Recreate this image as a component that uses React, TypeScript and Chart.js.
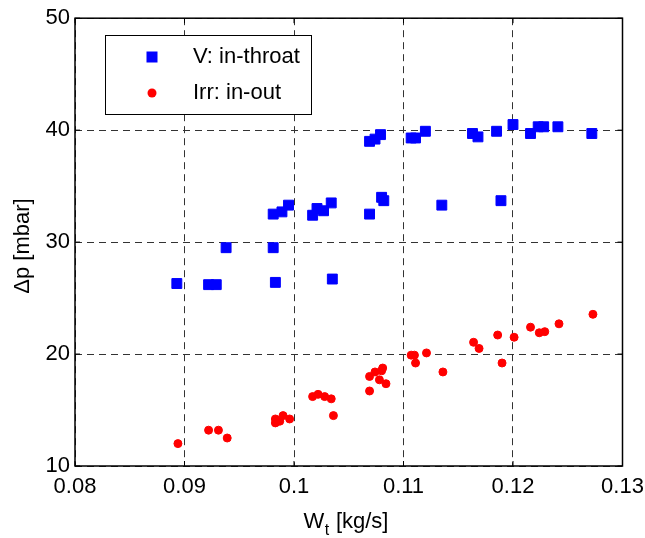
import React, { useEffect, useRef } from "react";
import { Chart, registerables } from "chart.js";

Chart.register(...registerables);

const xTickLabels = ["0.08", "0.09", "0.1", "0.11", "0.12", "0.13"];
const yTickLabels = ["10", "20", "30", "40", "50"];
const seriesNames = ["V: in-throat", "Irr: in-out"];
const xTitleMain = "W";
const xTitleSub = "t";
const xTitleRest = " [kg/s]";
const yTitle = "\u0394p [mbar]";

const vThroatX = [
  0.0893, 0.0922, 0.0929, 0.0938, 0.0981, 0.0983, 0.0981, 0.0989, 0.0995, 0.1017,
  0.1021, 0.1027, 0.1034, 0.1035, 0.1069, 0.1074, 0.1079, 0.1069, 0.108, 0.1082,
  0.1107, 0.1111, 0.112, 0.1135, 0.1163, 0.1168, 0.1185, 0.1189, 0.12, 0.1216,
  0.1223, 0.1228, 0.1241, 0.1272,
];
const vThroatY = [
  26.3, 26.2, 26.2, 29.5, 29.5, 26.4, 32.5, 32.7, 33.3, 32.4,
  33.0, 32.8, 33.5, 26.7, 39.0, 39.2, 39.6, 32.5, 34.0, 33.7,
  39.3, 39.3, 39.9, 33.3, 39.7, 39.4, 39.9, 33.7, 40.5, 39.7,
  40.3, 40.3, 40.3, 39.7,
];

const irrX = [
  0.0894, 0.0922, 0.0931, 0.0939, 0.0983, 0.0983, 0.0987, 0.099, 0.0996, 0.1017,
  0.1022, 0.1028, 0.1034, 0.1036, 0.1069, 0.1069, 0.1074, 0.1078, 0.108, 0.1081,
  0.1084, 0.1107, 0.111, 0.1111, 0.1121, 0.1136, 0.1164, 0.1169, 0.1186, 0.119,
  0.1201, 0.1216, 0.1224, 0.1229, 0.1242, 0.1273,
];
const irrY = [
  12.0, 13.2, 13.2, 12.5, 13.85, 14.2, 14.0, 14.5, 14.2, 16.2,
  16.4, 16.2, 16.0, 14.5, 16.7, 18.0, 18.4, 17.7, 18.5, 18.75,
  17.35, 19.9, 19.9, 19.2, 20.1, 18.4, 21.05, 20.5, 21.7, 19.2,
  21.5, 22.4, 21.9, 22.0, 22.7, 23.55,
];

const FONT = '"Liberation Sans", Arial, Helvetica, sans-serif';
const BLUE = "#0000ff";
const RED = "#ff0000";

const framePlugin = {
  id: "frame",
  afterDraw(chart: any) {
    const { ctx, chartArea, scales } = chart;
    const { left, right, top, bottom } = chartArea;
    ctx.save();
    ctx.strokeStyle = "#000";
    ctx.lineWidth = 1.5;
    ctx.setLineDash([]);
    ctx.strokeRect(left, top, right - left, bottom - top);
    // inward tick marks on all sides
    ctx.lineWidth = 1;
    const tl = 5;
    scales.x.ticks.forEach((t: any) => {
      const px = scales.x.getPixelForValue(t.value);
      ctx.beginPath();
      ctx.moveTo(px, bottom);
      ctx.lineTo(px, bottom - tl);
      ctx.moveTo(px, top);
      ctx.lineTo(px, top + tl);
      ctx.stroke();
    });
    scales.y.ticks.forEach((t: any) => {
      const py = scales.y.getPixelForValue(t.value);
      ctx.beginPath();
      ctx.moveTo(left, py);
      ctx.lineTo(left + tl, py);
      ctx.moveTo(right, py);
      ctx.lineTo(right - tl, py);
      ctx.stroke();
    });

    // axis titles
    ctx.fillStyle = "#000";
    ctx.textBaseline = "alphabetic";
    ctx.font = `22px ${FONT}`;
    const wMain = ctx.measureText(xTitleMain).width;
    const wRest = ctx.measureText(xTitleRest).width;
    ctx.font = `16px ${FONT}`;
    const wSub = ctx.measureText(xTitleSub).width;
    const total = wMain + wSub + wRest + 1;
    const cx = 346;
    const x0 = cx - total / 2;
    const base = 528;
    ctx.textAlign = "left";
    ctx.font = `22px ${FONT}`;
    ctx.fillText(xTitleMain, x0, base);
    ctx.font = `16px ${FONT}`;
    ctx.fillText(xTitleSub, x0 + wMain + 0.5, base + 7);
    ctx.font = `22px ${FONT}`;
    ctx.fillText(xTitleRest, x0 + wMain + wSub + 1, base);

    ctx.save();
    ctx.translate(29, 246);
    ctx.rotate(-Math.PI / 2);
    ctx.textAlign = "center";
    ctx.font = `22px ${FONT}`;
    ctx.fillText(yTitle, 0, 0);
    ctx.restore();

    // legend box
    const lx = 105.5, ly = 35.5, lw = 206, lh = 79;
    ctx.fillStyle = "#fff";
    ctx.fillRect(lx, ly, lw, lh);
    ctx.strokeStyle = "#000";
    ctx.lineWidth = 1;
    ctx.strokeRect(lx, ly, lw, lh);
    const rows = [57, 93];
    chart.data.datasets.forEach((ds: any, i: number) => {
      const my = rows[i];
      ctx.fillStyle = ds.backgroundColor;
      if (ds.pointStyle === "rect") {
        ctx.fillRect(152 - 5.5, my - 5.5, 11, 11);
      } else {
        ctx.beginPath();
        ctx.arc(152, my, 4.5, 0, Math.PI * 2);
        ctx.fill();
      }
      ctx.fillStyle = "#000";
      ctx.font = `22px ${FONT}`;
      ctx.textAlign = "left";
      ctx.textBaseline = "middle";
      ctx.fillText(ds.label, 193, my);
    });
    ctx.restore();
  },
};

export default function App() {
  const ref = useRef<HTMLCanvasElement>(null);
  useEffect(() => {
    document.body.style.margin = "0";
    const canvas = ref.current!;
    const chart = new Chart(canvas, {
      type: "scatter",
      data: {
        datasets: [
          {
            label: seriesNames[0],
            data: vThroatX.map((x, i) => ({ x, y: vThroatY[i] })),
            pointStyle: "rect",
            pointRadius: 7,
            pointHoverRadius: 7,
            backgroundColor: BLUE,
            borderColor: BLUE,
            borderWidth: 1,
          },
          {
            label: seriesNames[1],
            data: irrX.map((x, i) => ({ x, y: irrY[i] })),
            pointStyle: "circle",
            pointRadius: 4,
            pointHoverRadius: 4,
            backgroundColor: RED,
            borderColor: RED,
            borderWidth: 1,
          },
        ],
      },
      options: {
        responsive: false,
        animation: false,
        events: [],
        layout: { padding: { top: 17, right: 0, left: 0, bottom: 0 } },
        plugins: {
          legend: { display: false },
          tooltip: { enabled: false },
          title: { display: false },
        },
        scales: {
          x: {
            type: "linear",
            min: 0.08,
            max: 0.13,
            afterFit: (s: any) => {
              s.height = 72;
              s.paddingRight = 22.5;
              s.paddingLeft = 0;
            },
            afterBuildTicks: (s: any) => {
              s.ticks = xTickLabels.map((l) => ({ value: parseFloat(l) }));
            },
            ticks: {
              callback: (_v: any, i: number) => xTickLabels[i],
              font: { size: 22, family: FONT },
              color: "#000",
              padding: 8,
              maxRotation: 0,
              autoSkip: false,
            },
            grid: { color: "#333", lineWidth: 1, drawTicks: false },
            border: { display: false, dash: [7, 5] },
          },
          y: {
            type: "linear",
            min: 10,
            max: 50,
            afterFit: (s: any) => {
              s.width = 75;
            },
            afterBuildTicks: (s: any) => {
              s.ticks = yTickLabels.map((l) => ({ value: parseFloat(l) }));
            },
            ticks: {
              callback: (_v: any, i: number) => yTickLabels[i],
              font: { size: 22, family: FONT },
              color: "#000",
              padding: 5,
              autoSkip: false,
            },
            grid: { color: "#333", lineWidth: 1, drawTicks: false },
            border: { display: false, dash: [7, 5] },
          },
        },
      },
      plugins: [framePlugin],
    });
    return () => chart.destroy();
  }, []);
  return <canvas ref={ref} width={645} height={538} style={{ display: "block" }} />;
}
